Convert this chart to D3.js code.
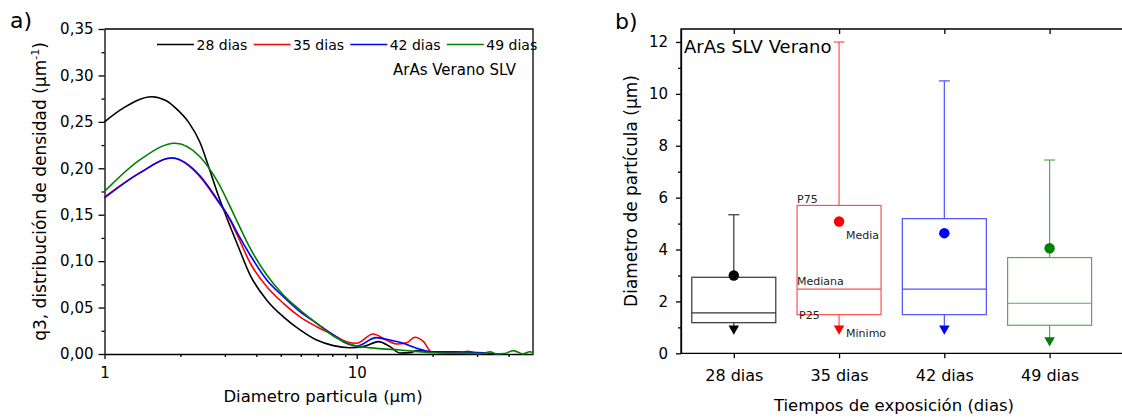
<!DOCTYPE html>
<html>

<head>
  <meta charset="utf-8">
  <title>ArAs Verano SLV</title>
  <script src="https://d3js.org/d3.v7.min.js"></script>

  <style>
    body,
    html {
      margin: 0;
      padding: 0;
      background-color: #ffffff;
    }

    text {
      font-family: "DejaVu Sans", Arial, sans-serif;
      fill: #000000;
    }

    .axis .domain,
    .axis .tick line,
    .frame {
      stroke: #000000;
      stroke-width: 1.3;
    }

    .axis .tick text {
      font-size: 15px;
    }

    .minor .domain {
      display: none;
    }

    .curve {
      fill: none;
      stroke-width: 1.6;
    }

    .note {
      font-size: 11px;
      fill: #222222;
    }
  </style>
</head>

<body>
  <div id="chart"></div>

  <script>
    // ---- a) q3 distribution, [diametro um, q3]
    const serie28 = [[1, 0.250], [1.19, 0.265], [1.54, 0.277], [1.75, 0.273], [1.93, 0.264], [2.15, 0.250], [2.39, 0.228], [2.6, 0.200], [2.79, 0.175], [3.05, 0.147], [3.4, 0.115], [3.78, 0.085], [4.4, 0.058], [5.12, 0.040], [5.96, 0.026], [6.94, 0.015], [8.08, 0.009], [9.4, 0.0068], [10.6, 0.0079], [12.2, 0.0133], [13.55, 0.0079], [14.85, 0.001], [16.3, 0.0015], [17.3, 0.0036], [19.5, 0.0025], [23, 0.0015], [27, 0.0008], [30, 0]]
    const serie35 = [[1, 0.169], [1.38, 0.195], [1.85, 0.211], [2.39, 0.191], [2.79, 0.166], [3.15, 0.144], [3.4, 0.125], [3.78, 0.098], [4.4, 0.0725], [5.12, 0.0546], [5.96, 0.040], [6.94, 0.0294], [8.08, 0.0205], [9.1, 0.0133], [10, 0.0115], [11.6, 0.0215], [13.1, 0.015], [14.4, 0.0108], [15.8, 0.0122], [17, 0.018], [18.4, 0.0133], [19.8, 0.0025], [23.4, 0.0025], [26, 0.0015], [27.5, 0.003], [29, 0.0015], [31, 0]]
    const serie42 = [[1, 0.168], [1.38, 0.195], [1.85, 0.211], [2.39, 0.192], [2.79, 0.167], [3.15, 0.145], [3.4, 0.128], [3.78, 0.1066], [4.4, 0.0797], [5.12, 0.0617], [5.96, 0.0456], [6.94, 0.033], [8.08, 0.0205], [9.1, 0.0115], [10, 0.0086], [11.95, 0.0176], [13.55, 0.015], [15.3, 0.0115], [17.3, 0.0061], [19.8, 0.0025], [23.4, 0.0025], [31.7, 0.0014], [36.8, 0]]
    const serie49 = [[1, 0.175], [1.38, 0.209], [1.9, 0.227], [2.39, 0.2125], [2.79, 0.187], [3.34, 0.144], [3.78, 0.114], [4.4, 0.085], [5.12, 0.0635], [5.96, 0.0474], [6.94, 0.033], [8.08, 0.0194], [9.1, 0.0122], [10, 0.0086], [11.95, 0.0061], [14.85, 0.0043], [20.1, 0.0014], [27.3, 0.0007], [31.7, 0.0005], [33.8, 0.0025], [35.7, 0], [38.5, 0.0005], [41.8, 0.0036], [45.6, 0], [48.6, 0.0025], [50, 0.0015]]

    const yTicksA = [0, 0.05, 0.10, 0.15, 0.20, 0.25, 0.30, 0.35]
    const yMinorA = [0.025, 0.075, 0.125, 0.175, 0.225, 0.275, 0.325]
    const xTicksA = [1, 10]
    const xMinorA = [2, 3, 4, 5, 6, 7, 8, 9, 20, 30, 40]

    // ---- b) box plot
    const cats = ['28 dias', '35 dias', '42 dias', '49 dias']
    const boxMin = [0.95, 0.95, 0.95, 0.5]
    const boxP25 = [1.18, 1.49, 1.49, 1.08]
    const boxMedian = [1.56, 2.47, 2.47, 1.93]
    const boxP75 = [2.93, 5.70, 5.19, 3.69]
    const boxMax = [5.34, 12.0, 10.5, 7.45]
    const boxMean = [3.0, 5.08, 4.63, 4.05]
    const yTicksB = [0, 2, 4, 6, 8, 10, 12]
    const yMinorB = [1, 3, 5, 7, 9, 11]

    const lineColors = ['#000000', '#ff0000', '#0000ff', '#008000']
    const boxColors = ['#333333', '#ff5050', '#5050ff', '#55aa55']

    const svg = d3.select('#chart').append('svg')
      .attr('width', 1122)
      .attr('height', 419)

    drawCurves()
    drawBoxes()

    function drawCurves() {
      const m = { left: 104.5, right: 533, top: 29, bottom: 354 }

      const xScale = d3.scaleLog().domain([1, 50]).range([m.left, m.right])
      const yScale = d3.scaleLinear().domain([0, 0.35]).range([m.bottom, m.top])

      // frame
      svg.append('path')
        .attr('class', 'frame')
        .attr('fill', 'none')
        .attr('d', `M${m.left},${m.top}H${m.right}V${m.bottom}`)

      svg.append('g')
        .attr('class', 'axis')
        .attr('transform', `translate(0,${m.bottom})`)
        .call(d3.axisBottom(xScale).tickValues(xTicksA).tickFormat(d3.format('d')).tickSize(5).tickSizeOuter(0).tickPadding(8))
      svg.append('g')
        .attr('class', 'axis minor')
        .attr('transform', `translate(0,${m.bottom})`)
        .call(d3.axisBottom(xScale).tickValues(xMinorA).tickFormat('').tickSize(3))

      svg.append('g')
        .attr('class', 'axis')
        .attr('transform', `translate(${m.left},0)`)
        .call(d3.axisLeft(yScale).tickValues(yTicksA).tickFormat((d) => d.toFixed(2).replace('.', ',')).tickSize(6).tickSizeOuter(0).tickPadding(5))
      svg.append('g')
        .attr('class', 'axis minor')
        .attr('transform', `translate(${m.left},0)`)
        .call(d3.axisLeft(yScale).tickValues(yMinorA).tickFormat('').tickSize(3))

      const line = d3.line()
        .x((d) => xScale(d[0]))
        .y((d) => yScale(d[1]))
        .curve(d3.curveMonotoneX)

      const series = [serie28, serie35, serie42, serie49]
      series.forEach((s, i) => {
        svg.append('path')
          .datum(s)
          .attr('class', 'curve')
          .attr('stroke', lineColors[i])
          .attr('d', line)
      })

      // legend
      const legend = svg.append('g').attr('transform', 'translate(157,44.5)')
      cats.forEach((c, i) => {
        const gx = i * 96.6
        legend.append('line')
          .attr('x1', gx).attr('x2', gx + 37)
          .attr('y1', 0).attr('y2', 0)
          .attr('stroke', lineColors[i])
          .attr('stroke-width', 1.6)
        legend.append('text')
          .attr('x', gx + 39.5)
          .attr('y', 5)
          .style('font-size', '14px')
          .text(c)
      })

      svg.append('text')
        .attr('x', 393)
        .attr('y', 75)
        .style('font-size', '15px')
        .text('ArAs Verano SLV')

      // titles
      svg.append('text')
        .attr('x', 10)
        .attr('y', 28)
        .style('font-size', '22px')
        .text('a)')

      svg.append('text')
        .attr('x', 323)
        .attr('y', 402)
        .attr('text-anchor', 'middle')
        .style('font-size', '16.5px')
        .text('Diametro particula (\u00b5m)')

      const yTitle = svg.append('text')
        .attr('transform', 'translate(46,191.5) rotate(-90)')
        .attr('text-anchor', 'middle')
        .style('font-size', '17px')
      yTitle.append('tspan').text('q3, distribución de densidad (\u00b5m')
      yTitle.append('tspan').attr('dy', -7).style('font-size', '11px').text('-1')
      yTitle.append('tspan').attr('dy', 7).text(')')
    }

    function drawBoxes() {
      const m = { left: 681, right: 1140, top: 29, bottom: 353.3 }
      const boxW = 84
      const capW = 11

      const xScale = d3.scalePoint().domain(cats).range([733.8, 1049.6])
      const yScale = d3.scaleLinear().domain([0, 12.5]).range([m.bottom, m.top])

      // frame
      svg.append('path')
        .attr('class', 'frame')
        .attr('fill', 'none')
        .attr('d', `M${m.right},${m.top}H${m.left}V${m.bottom}H${m.right}`)

      svg.append('g')
        .attr('class', 'axis minor')
        .attr('transform', `translate(0,${m.bottom})`)
        .call(d3.axisBottom(xScale).tickSize(5).tickPadding(11))
      svg.selectAll('.minor .tick text').style('font-size', '16px')
      svg.append('g')
        .attr('class', 'axis minor')
        .attr('transform', `translate(0,${m.top})`)
        .call(d3.axisBottom(xScale).tickSize(5).tickFormat(''))

      svg.append('g')
        .attr('class', 'axis')
        .attr('transform', `translate(${m.left},0)`)
        .call(d3.axisLeft(yScale).tickValues(yTicksB).tickFormat(d3.format('d')).tickSize(5).tickSizeOuter(0).tickPadding(8))
      svg.append('g')
        .attr('class', 'axis minor')
        .attr('transform', `translate(${m.left},0)`)
        .call(d3.axisLeft(yScale).tickValues(yMinorB).tickFormat('').tickSize(3))

      const boxes = svg.append('g')
      cats.forEach((c, i) => {
        const cx = xScale(c)
        const col = boxColors[i]
        // upper whisker + cap
        boxes.append('line')
          .attr('x1', cx).attr('x2', cx)
          .attr('y1', yScale(boxP75[i])).attr('y2', yScale(boxMax[i]))
          .attr('stroke', col).attr('stroke-width', 1.2)
        boxes.append('line')
          .attr('x1', cx - capW / 2).attr('x2', cx + capW / 2)
          .attr('y1', yScale(boxMax[i])).attr('y2', yScale(boxMax[i]))
          .attr('stroke', col).attr('stroke-width', 1.2)
        // lower whisker
        boxes.append('line')
          .attr('x1', cx).attr('x2', cx)
          .attr('y1', yScale(boxP25[i])).attr('y2', yScale(boxMin[i]))
          .attr('stroke', col).attr('stroke-width', 1.2)
        // box
        boxes.append('rect')
          .attr('x', cx - boxW / 2)
          .attr('y', yScale(boxP75[i]))
          .attr('width', boxW)
          .attr('height', yScale(boxP25[i]) - yScale(boxP75[i]))
          .attr('fill', 'none')
          .attr('stroke', col).attr('stroke-width', 1.2)
        boxes.append('line')
          .attr('x1', cx - boxW / 2).attr('x2', cx + boxW / 2)
          .attr('y1', yScale(boxMedian[i])).attr('y2', yScale(boxMedian[i]))
          .attr('stroke', col).attr('stroke-width', 1.2)
        // mean and minimum markers
        boxes.append('circle')
          .attr('cx', cx).attr('cy', yScale(boxMean[i]))
          .attr('r', 5.2)
          .attr('fill', lineColors[i])
        boxes.append('path')
          .attr('d', d3.symbol(d3.symbolTriangle, 48)())
          .attr('transform', `translate(${cx},${yScale(boxMin[i])}) rotate(180)`)
          .attr('fill', lineColors[i])
      })

      // notes on the 35 dias box
      const cx = xScale(cats[1])
      const notes = [
        { t: 'P75', x: cx - boxW / 2, y: yScale(boxP75[1]) - 2 },
        { t: 'Media', x: cx + 7, y: yScale(boxMean[1]) + 17 },
        { t: 'Mediana', x: cx - boxW / 2, y: yScale(boxMedian[1]) - 4 },
        { t: 'P25', x: cx - boxW / 2 + 2, y: yScale(boxP25[1]) + 4 },
        { t: 'Minimo', x: cx + 7, y: yScale(boxMin[1]) + 8 }
      ]
      svg.selectAll('.note')
        .data(notes)
        .enter()
        .append('text')
        .attr('class', 'note')
        .attr('x', (d) => d.x)
        .attr('y', (d) => d.y)
        .text((d) => d.t)

      svg.append('text')
        .attr('x', 684)
        .attr('y', 53)
        .style('font-size', '18px')
        .text('ArAs SLV Verano')

      svg.append('text')
        .attr('x', 615)
        .attr('y', 29)
        .style('font-size', '22px')
        .text('b)')

      svg.append('text')
        .attr('x', 894)
        .attr('y', 411)
        .attr('text-anchor', 'middle')
        .style('font-size', '16.5px')
        .text('Tiempos de exposición (dias)')

      svg.append('text')
        .attr('transform', 'translate(637,191) rotate(-90)')
        .attr('text-anchor', 'middle')
        .style('font-size', '17px')
        .text('Diametro de partícula (\u00b5m)')
    }
  </script>
</body>

</html>
